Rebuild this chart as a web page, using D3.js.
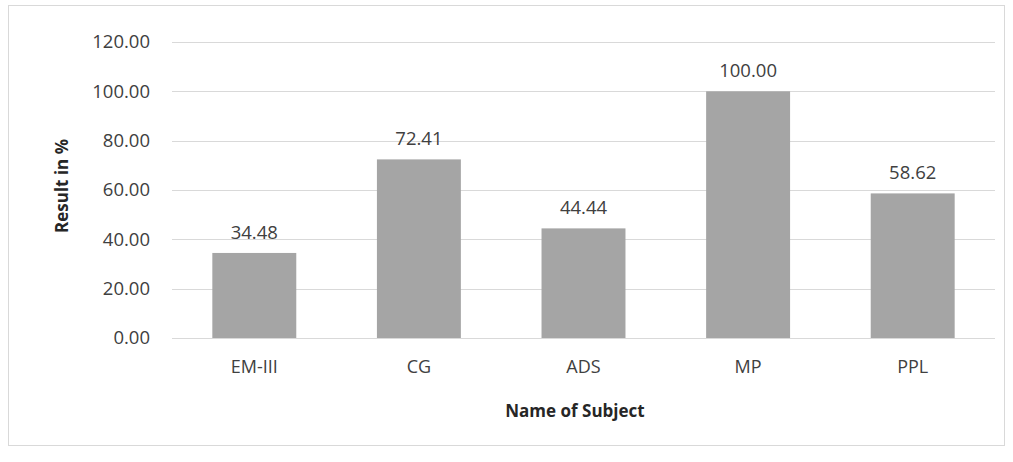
<!DOCTYPE html>
<html lang="en">
<head>
    <meta charset="UTF-8">
    <title>Result in % by subject</title>
    <style>
        body {
            margin: 0;
            background-color: #fff;
        }

        #chart {
            display: block;
            width: 1013px;
            height: 462px;
        }

        text {
            font-family: "Open Sans", "Noto Sans", sans-serif;
            fill: #404040;
        }

        .grid line {
            stroke: #d9d9d9;
        }

        .axis-title {
            font-weight: bold;
            font-size: 17px;
            fill: #262626;
        }
    </style>
</head>
<body>
    <svg id="chart"></svg>

    <script src="https://cdnjs.cloudflare.com/ajax/libs/d3/7.8.5/d3.min.js"></script>
    <script>
        const subjects = ['EM-III', 'CG', 'ADS', 'MP', 'PPL'];
        const results = [34.48, 72.41, 44.44, 100.00, 58.62];
        const yTicks = [0, 20, 40, 60, 80, 100, 120];

        const svg = d3.select('#chart');

        // outer chart border
        svg.append('rect')
            .attr('x', 8.5)
            .attr('y', 5.5)
            .attr('width', 996)
            .attr('height', 440)
            .attr('fill', 'none')
            .attr('stroke', '#d9d9d9');

        let x = d3.scaleBand()
            .domain(subjects)
            .range([172, 995])
            .paddingInner(0.49)
            .paddingOuter(0.245);

        let y = d3.scaleLinear()
            .domain([0, 120])
            .range([338, 42]);

        // gridlines
        svg.append('g')
            .attr('class', 'grid')
            .selectAll('line')
            .data(yTicks)
            .join('line')
            .attr('x1', 172)
            .attr('x2', 995)
            .attr('y1', d => Math.round(y(d)) + 0.5)
            .attr('y2', d => Math.round(y(d)) + 0.5);

        // y tick labels
        svg.append('g')
            .selectAll('text')
            .data(yTicks)
            .join('text')
            .attr('x', 150)
            .attr('y', d => y(d))
            .attr('dy', '0.35em')
            .attr('text-anchor', 'end')
            .attr('font-size', 18.5)
            .text(d => d.toFixed(2));

        // bars
        svg.append('g')
            .selectAll('rect')
            .data(results)
            .join('rect')
            .attr('x', (d, i) => x(subjects[i]))
            .attr('y', d => y(d))
            .attr('width', x.bandwidth())
            .attr('height', d => y(0) - y(d))
            .attr('fill', '#a5a5a5');

        // value labels
        svg.append('g')
            .selectAll('text')
            .data(results)
            .join('text')
            .attr('x', (d, i) => x(subjects[i]) + x.bandwidth() / 2)
            .attr('y', d => y(d) - 14)
            .attr('text-anchor', 'middle')
            .attr('font-size', 18.5)
            .text(d => d.toFixed(2));

        // category labels
        svg.append('g')
            .selectAll('text')
            .data(subjects)
            .join('text')
            .attr('x', d => x(d) + x.bandwidth() / 2)
            .attr('y', 373)
            .attr('text-anchor', 'middle')
            .attr('font-size', 18)
            .text(d => d);

        svg.append('text')
            .attr('class', 'axis-title')
            .attr('x', 575)
            .attr('y', 417)
            .attr('text-anchor', 'middle')
            .text('Name of Subject');

        svg.append('text')
            .attr('class', 'axis-title')
            .attr('transform', 'translate(68, 186) rotate(-90)')
            .attr('text-anchor', 'middle')
            .text('Result in %');
    </script>
</body>
</html>
